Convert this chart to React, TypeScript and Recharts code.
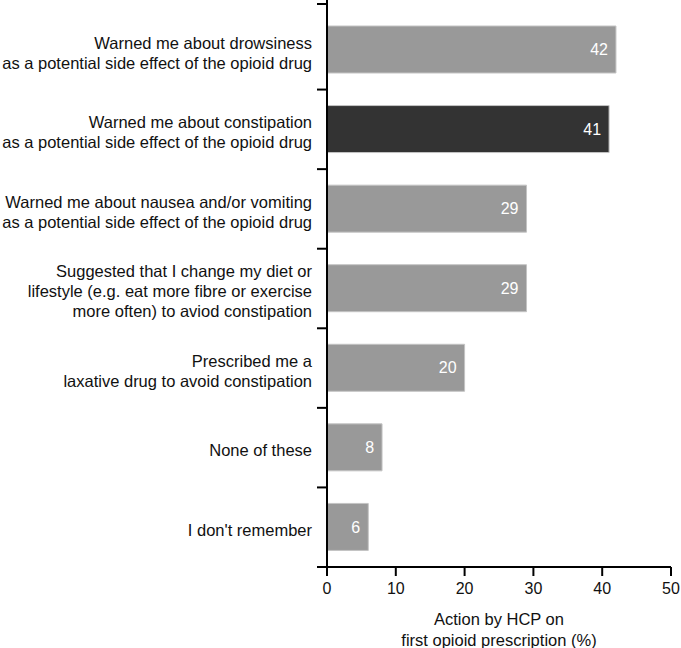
import React from 'react';
import { BarChart, Bar, XAxis, YAxis, Cell, LabelList } from 'recharts';

const categories = [
  'Warned me about drowsiness\nas a potential side effect of the opioid drug',
  'Warned me about constipation\nas a potential side effect of the opioid drug',
  'Warned me about nausea and/or vomiting\nas a potential side effect of the opioid drug',
  'Suggested that I change my diet or\nlifestyle (e.g. eat more fibre or exercise\nmore often) to aviod constipation',
  'Prescribed me a\nlaxative drug to avoid constipation',
  'None of these',
  "I don't remember",
];
const values = [42, 41, 29, 29, 20, 8, 6];
const highlightedCategory = categories[1];
const xTicks = [0, 10, 20, 30, 40, 50];
const xAxisTitle = ['Action by HCP on', 'first opioid prescription (%)'];

const data = categories.map((c, i) => ({ category: c, value: values[i] }));

const WIDTH = 681;
const HEIGHT = 648;
const MARGIN = { top: 10, right: 10, bottom: 0, left: 0 };
const X_AXIS_HEIGHT = 81;
const Y_AXIS_WIDTH = 327;
const PLOT_H = HEIGHT - MARGIN.top - MARGIN.bottom - X_AXIS_HEIGHT;
const BAND = PLOT_H / categories.length;
const FONT = '"Liberation Sans", Arial, Helvetica, sans-serif';
const GREY = '#999999';
const DARK = '#333333';

const CategoryTick = (props: any) => {
  const { x, y, payload, index } = props;
  const lines = String(payload.value).split('\n');
  const lineH = 20;
  const startY = y + 3 - ((lines.length - 1) * lineH) / 2;
  const isFirst = index === 0;
  const isLast = index === categories.length - 1;
  const top = y - BAND / 2;
  const tickY = isFirst ? top - 6 : top;
  return (
    <g>
      {isFirst && <line x1={x} x2={x} y1={top - MARGIN.top} y2={top} stroke="#000" strokeWidth={2} />}
      <line x1={x - 10} x2={x} y1={tickY} y2={tickY} stroke="#000" strokeWidth={2} />
      {isLast && (
        <line x1={x - 10} x2={x} y1={y + BAND / 2} y2={y + BAND / 2} stroke="#000" strokeWidth={2} />
      )}
      <text x={x - 15} y={startY} textAnchor="end" fontSize={16.5} fontFamily={FONT} fill="#111">
        {lines.map((l, i) => (
          <tspan key={i} x={x - 15} y={startY + i * lineH} dy="0.35em">
            {l}
          </tspan>
        ))}
      </text>
    </g>
  );
};

const XTitle = (props: any) => {
  const vb = props.viewBox || {};
  const cx = vb.x + vb.width / 2;
  return (
    <text textAnchor="middle" fontSize={16.5} fontFamily={FONT} fill="#111">
      <tspan x={cx} y={vb.y + 58}>{xAxisTitle[0]}</tspan>
      <tspan x={cx} y={vb.y + 79}>{xAxisTitle[1]}</tspan>
    </text>
  );
};

export default function App() {
  return (
    <div style={{ position: 'absolute', left: 0, top: 0, width: WIDTH, height: HEIGHT, background: '#fff' }}>
      <BarChart
        width={WIDTH}
        height={HEIGHT}
        data={data}
        layout="vertical"
        margin={MARGIN}
      >
        <XAxis
          type="number"
          domain={[0, 50]}
          ticks={xTicks}
          interval={0}
          height={X_AXIS_HEIGHT}
          axisLine={{ stroke: '#000', strokeWidth: 2 }}
          tickLine={{ stroke: '#000', strokeWidth: 2 }}
          tickSize={9}
          tickMargin={7}
          tick={{ fontSize: 16, fontFamily: FONT, fill: '#111' }}
          label={<XTitle />}
        />
        <YAxis
          type="category"
          dataKey="category"
          width={Y_AXIS_WIDTH}
          interval={0}
          axisLine={{ stroke: '#000', strokeWidth: 2 }}
          tickLine={false}
          tickSize={0}
          tickMargin={0}
          tick={(p: any) => <CategoryTick {...p} />}
        />
        <Bar dataKey="value" barSize={47} isAnimationActive={false} stroke="#c4c4c4" strokeWidth={1}>
          {data.map((d, i) => (
            <Cell key={i} fill={d.category === highlightedCategory ? DARK : GREY} />
          ))}
          <LabelList
            dataKey="value"
            position="insideRight"
            offset={8}
            fill="#fff"
            fontSize={16}
            fontFamily={FONT}
          />
        </Bar>
      </BarChart>
    </div>
  );
}
